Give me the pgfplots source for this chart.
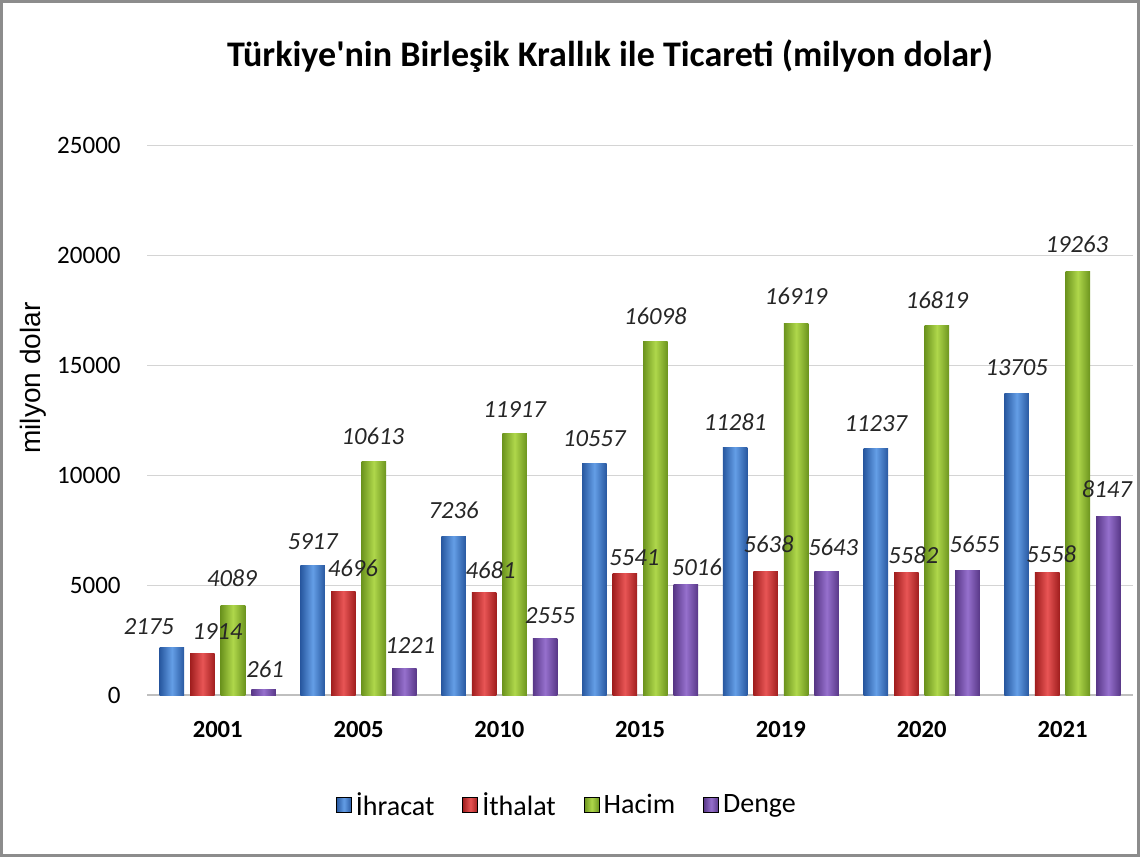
\documentclass[border=0pt]{standalone}
\usepackage{fontspec}
\setmainfont{Carlito}
\newfontfamily\titlefont{Carlito}
\newfontfamily\arialfont{Liberation Sans}
\usepackage{pgfplots}
\pgfplotsset{compat=1.18}
\definecolor{bD}{RGB}{40,88,160}\definecolor{bL}{RGB}{100,158,230}
\definecolor{rD}{RGB}{160,30,30}\definecolor{rL}{RGB}{232,85,85}
\definecolor{gD}{RGB}{108,148,30}\definecolor{gL}{RGB}{175,215,75}
\definecolor{pD}{RGB}{88,55,135}\definecolor{pL}{RGB}{150,112,205}
\pgfplotsset{
  barbase/.style={ybar, bar width=12.25pt, draw=none, forget plot, nodes near coords},
  bluebar/.style={barbase, bar shift=-22.875pt, left color=bD, right color=bD, middle color=bL, every node near coord/.append style={xshift=-22.875pt}},
  redbar/.style={barbase, bar shift=-7.625pt, left color=rD, right color=rD, middle color=rL, every node near coord/.append style={xshift=-7.625pt}},
  greenbar/.style={barbase, bar shift=7.625pt, left color=gD, right color=gD, middle color=gL, every node near coord/.append style={xshift=7.625pt}},
  purplebar/.style={barbase, bar shift=22.875pt, left color=pD, right color=pD, middle color=pL, every node near coord/.append style={xshift=22.875pt}},
  lbl/.style 2 args={every node near coord/.append style={xshift=#1pt, yshift=#2pt}},
}
\begin{document}
\begin{tikzpicture}[x=0.5pt,y=0.5pt]
\draw[black!45, line width=1.5pt] (2,2) rectangle (1138,855);
\node[font=\titlefont\bfseries\fontsize{18}{21}\selectfont] at (610,800) {Türkiye'nin Birleşik Krallık ile Ticareti (milyon dolar)};
\begin{axis}[at={(73.85pt,81pt)}, anchor=south west, scale only axis,
  width=492.35pt, height=274.5pt,
  xmin=-0.5, xmax=6.5, ymin=0, ymax=25000,
  xtick={0,...,6}, xticklabels={2001,2005,2010,2015,2019,2020,2021},
  ytick={0,5000,...,25000},
  ymajorgrids, grid style={black!17, line width=0.6pt},
  axis x line*=bottom, axis y line*=left,
  y axis line style={draw=none},
  x axis line style={draw=black!25, line width=0.8pt, -},
  major tick length=0pt,
  scaled y ticks=false,
  /pgf/number format/assume math mode=true,
  /pgf/number format/set thousands separator={},
  xticklabel style={font=\bfseries\fontsize{12.3}{14}\selectfont, yshift=-9.5pt},
  yticklabel style={font=\fontsize{12.5}{15}\selectfont, xshift=-9.8pt},
  every axis y label/.style={at={(axis description cs:-0.1155,0.577)}, rotate=90, anchor=center, font=\arialfont\fontsize{14}{16}\selectfont},
  ylabel={milyon dolar},
  nodes near coords style={font=\itshape\fontsize{12.3}{14}\selectfont, color=black!85, anchor=south},
  legend columns=4,
  legend style={draw=none, fill=none, at={(axis description cs:0.4268,-0.2004)}, anchor=center,
    font=\fontsize{14}{16}\selectfont, /tikz/every even column/.append style={column sep=12pt}},
]
% Ihracat
\addplot[bluebar, lbl={-11.5}{3}] coordinates {(0,2175)};
\addplot[bluebar, lbl={0}{4}] coordinates {(1,5917)};
\addplot[bluebar, lbl={0}{5}] coordinates {(2,7236)};
\addplot[bluebar, lbl={0}{4.5}] coordinates {(3,10557)};
\addplot[bluebar, lbl={0}{4.5}] coordinates {(4,11281)};
\addplot[bluebar, lbl={0}{4.5}] coordinates {(5,11237)};
\addplot[bluebar, lbl={0}{5.5}] coordinates {(6,13705)};
% Ithalat
\addplot[redbar, lbl={7.5}{3}] coordinates {(0,1914)};
\addplot[redbar, lbl={4.75}{4}] coordinates {(1,4696)};
\addplot[redbar, lbl={3.25}{3}] coordinates {(2,4681)};
\addplot[redbar, lbl={4.75}{0.5}] coordinates {(3,5541)};
\addplot[redbar, lbl={1.5}{5.5}] coordinates {(4,5638)};
\addplot[redbar, lbl={3.5}{1}] coordinates {(5,5582)};
\addplot[redbar, lbl={2}{1.5}] coordinates {(6,5558)};
% Hacim
\addplot[greenbar, lbl={-0.5}{5.5}] coordinates {(0,4089)};
\addplot[greenbar, lbl={-0.5}{5}] coordinates {(1,10613)};
\addplot[greenbar, lbl={0}{4.5}] coordinates {(2,11917)};
\addplot[greenbar, lbl={0}{5}] coordinates {(3,16098)};
\addplot[greenbar, lbl={0}{5.5}] coordinates {(4,16919)};
\addplot[greenbar, lbl={0}{5}] coordinates {(5,16819)};
\addplot[greenbar, lbl={-0.5}{6}] coordinates {(6,19263)};
% Denge
\addplot[purplebar, lbl={0.75}{2.5}] coordinates {(0,261)};
\addplot[purplebar, lbl={3}{4}] coordinates {(1,1221)};
\addplot[purplebar, lbl={2.5}{4}] coordinates {(2,2555)};
\addplot[purplebar, lbl={5.5}{1}] coordinates {(3,5016)};
\addplot[purplebar, lbl={3.25}{4}] coordinates {(4,5643)};
\addplot[purplebar, lbl={3.5}{5.5}] coordinates {(5,5655)};
\addplot[purplebar, lbl={-0.75}{5.5}] coordinates {(6,8147)};
\addlegendimage{legend image code/.code={\fill[left color=bD,right color=bD,middle color=bL] (0pt,-3.5pt) rectangle (7.5pt,4pt);}}
\addlegendentry{İhracat}
\addlegendimage{legend image code/.code={\fill[left color=rD,right color=rD,middle color=rL] (0pt,-3.5pt) rectangle (7.5pt,4pt);}}
\addlegendentry{İthalat}
\addlegendimage{legend image code/.code={\fill[left color=gD,right color=gD,middle color=gL] (0pt,-3.5pt) rectangle (7.5pt,4pt);}}
\addlegendentry{Hacim}
\addlegendimage{legend image code/.code={\fill[left color=pD,right color=pD,middle color=pL] (0pt,-3.5pt) rectangle (7.5pt,4pt);}}
\addlegendentry{Denge}
\end{axis}
\end{tikzpicture}
\end{document}
